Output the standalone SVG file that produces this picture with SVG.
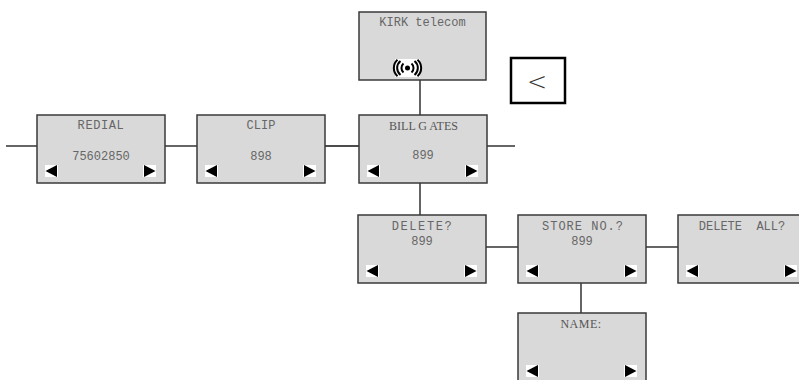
<svg xmlns="http://www.w3.org/2000/svg" xmlns:xlink="http://www.w3.org/1999/xlink" width="799" height="380" viewBox="0 0 799 380">
<style>
.box{fill:#d9d9d9;stroke:#3a3a3a;stroke-width:1.5}
.t{font-family:"Liberation Mono","Courier New",monospace;font-size:12px;fill:#666;text-anchor:middle;white-space:pre}
.s{font-family:"Liberation Serif","Times New Roman",serif;font-size:12px;fill:#555;text-anchor:middle}
.ln{stroke:#111;stroke-width:1.3;fill:none}
</style>
<defs>
<g id="la"><rect x="0" y="0" width="13" height="12" fill="#fff"/><polygon points="0.5,6 12,0 12,12" fill="#000"/></g>
<g id="ra"><rect x="0" y="0" width="13" height="12" fill="#fff"/><polygon points="12.5,6 1,0 1,12" fill="#000"/></g>
</defs>
<rect width="799" height="380" fill="#fff"/>
<g id="connectors">
<line class="ln" x1="6" y1="146" x2="37" y2="146"/>
<line class="ln" x1="165" y1="146" x2="197" y2="146"/>
<line class="ln" x1="325" y1="146" x2="359" y2="146"/>
<line class="ln" x1="487" y1="146" x2="515" y2="146"/>
<line class="ln" x1="420" y1="80" x2="420" y2="115"/>
<line class="ln" x1="420" y1="183" x2="420" y2="215"/>
<line class="ln" x1="486" y1="247" x2="518" y2="247"/>
<line class="ln" x1="646" y1="247" x2="678" y2="247"/>
<line class="ln" x1="581" y1="283" x2="581" y2="313"/>
</g>
<g id="kirk">
<rect class="box" x="359" y="12" width="127" height="68"/>
<text class="t" x="422.5" y="26">KIRK telecom</text>
<rect x="395" y="59" width="25" height="18" fill="#fff"/>
<circle cx="407.5" cy="68" r="2.5" fill="#000"/>
<g fill="none" stroke="#000" stroke-width="2">
<path d="M403.5,63.5 A6,6 0 0 0 403.5,72.5"/>
<path d="M400.5,61 A9,9 0 0 0 400.5,75"/>
<path d="M397.5,59.8 A11,11 0 0 0 397.5,76.2"/>
<path d="M411.5,63.5 A6,6 0 0 1 411.5,72.5"/>
<path d="M414.5,61 A9,9 0 0 1 414.5,75"/>
<path d="M417.5,59.8 A11,11 0 0 1 417.5,76.2"/>
</g>
</g>
<g id="back">
<rect x="511" y="58" width="54" height="45" fill="#fff" stroke="#000" stroke-width="2.5"/>
<text x="537" y="90" style="font-family:'DejaVu Sans','Liberation Sans',sans-serif;font-weight:200;font-size:24px;fill:#333;text-anchor:middle">&lt;</text>
</g>
<g id="redial">
<rect class="box" x="37" y="115" width="128" height="68"/>
<text class="t" x="101" y="129" style="letter-spacing:0.6px">REDIAL</text>
<text class="t" x="101" y="160">75602850</text>
<use xlink:href="#la" x="45" y="165"/>
<use xlink:href="#ra" x="143" y="165"/>
</g>
<g id="clip">
<rect class="box" x="197" y="115" width="128" height="68"/>
<text class="t" x="261" y="129">CLIP</text>
<text class="t" x="261" y="160">898</text>
<use xlink:href="#la" x="205" y="165"/>
<use xlink:href="#ra" x="303" y="165"/>
</g>
<g id="billgates">
<rect class="box" x="359" y="115" width="128" height="68"/>
<text class="s" x="423.5" y="130">BILL G ATES</text>
<text class="t" x="423" y="159">899</text>
<use xlink:href="#la" x="367" y="165"/>
<use xlink:href="#ra" x="465" y="165"/>
</g>
<g id="delete">
<rect class="box" x="358" y="215" width="128" height="68"/>
<text class="t" x="422.5" y="230" style="letter-spacing:1.6px">DELETE?</text>
<text class="t" x="422" y="245">899</text>
<use xlink:href="#la" x="366" y="265"/>
<use xlink:href="#ra" x="464" y="265"/>
</g>
<g id="store">
<rect class="box" x="518" y="215" width="128" height="68"/>
<text class="t" x="583" y="230" style="letter-spacing:1px">STORE NO.?</text>
<text class="t" x="582" y="245">899</text>
<use xlink:href="#la" x="526" y="265"/>
<use xlink:href="#ra" x="624" y="265"/>
</g>
<g id="deleteall">
<rect class="box" x="678" y="215" width="128" height="68"/>
<text class="t" x="742" y="230">DELETE  ALL?</text>
<use xlink:href="#la" x="686" y="265"/>
<use xlink:href="#ra" x="784" y="265"/>
</g>
<g id="name">
<rect class="box" x="518" y="313" width="128" height="75"/>
<text class="s" x="581" y="328" style="letter-spacing:0.5px">NAME:</text>
<use xlink:href="#la" x="526" y="365"/>
<use xlink:href="#ra" x="624" y="365"/>
</g>
</svg>
